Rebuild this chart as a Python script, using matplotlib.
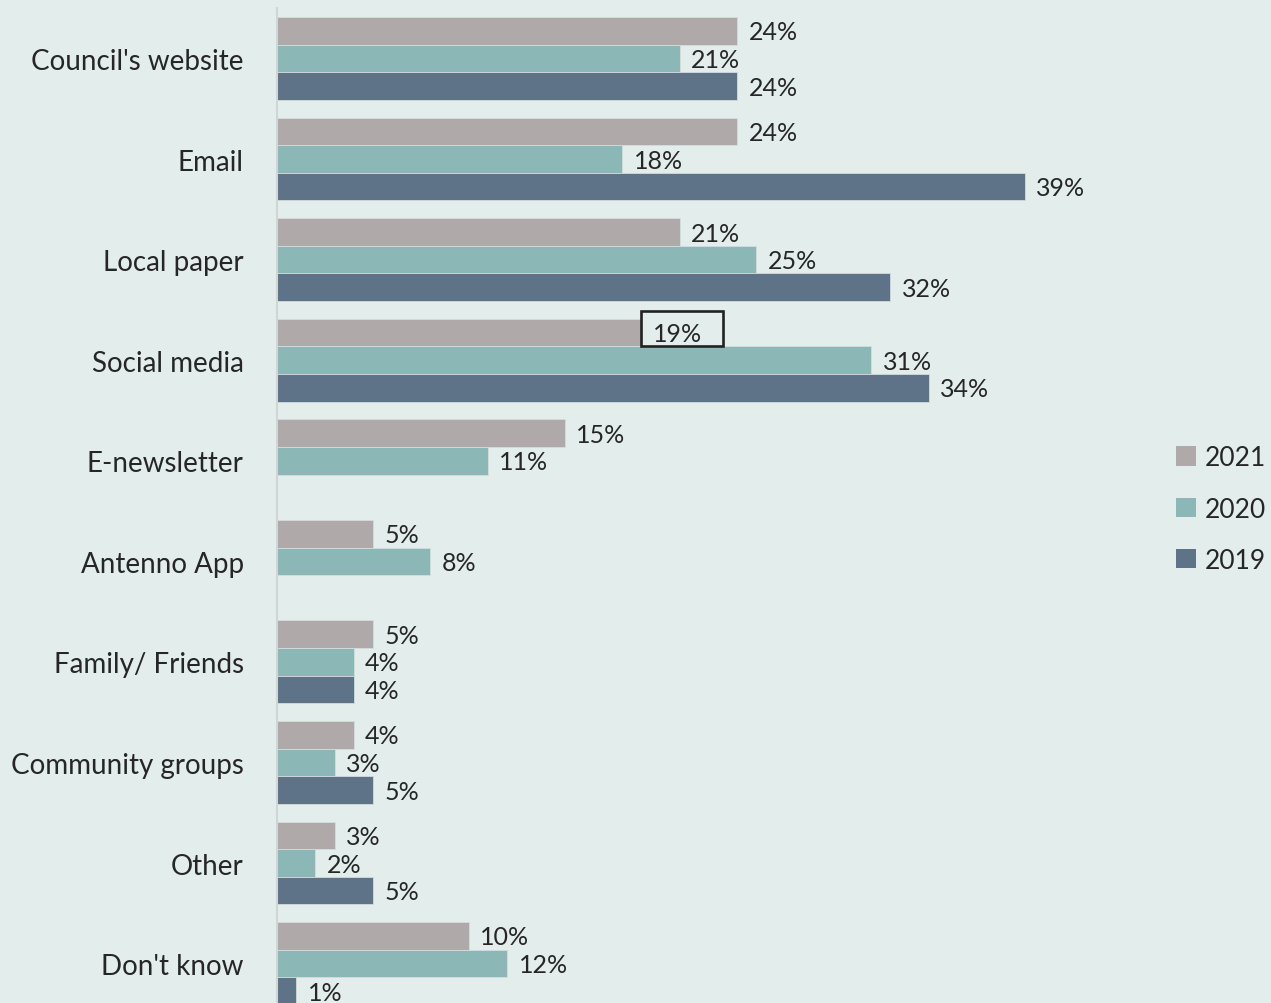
import matplotlib
matplotlib.use("Agg")
import matplotlib.pyplot as plt
from matplotlib.patches import Patch, Rectangle
import numpy as np

plt.rcParams["font.family"] = ["Lato", "DejaVu Sans"]

categories = [
    "Council's website", "Email", "Local paper", "Social media", "E-newsletter",
    "Antenno App", "Family/ Friends", "Community groups", "Other", "Don't know",
]
years = ["2021", "2020", "2019"]
pct_2021 = [24, 24, 21, 19, 15, 5, 5, 4, 3, 10]
pct_2020 = [21, 18, 25, 31, 11, 8, 4, 3, 2, 12]
pct_2019 = [24, 39, 32, 34, None, None, 4, 5, 5, 1]
highlight = ("Social media", "2021")

colors = ["#afaaa9", "#8bb8b7", "#5e7387"]
bg = "#e3eeec"
text_col = "#262626"

fig = plt.figure(figsize=(12.71, 10.04), dpi=100, facecolor=bg)
ax = fig.add_axes([277 / 1271, 0, 862.5 / 1271, 995 / 1004], facecolor=bg)

y = np.arange(len(categories))
h = 0.2745
series = [pct_2021, pct_2020, pct_2019]
for k, (vals, col, yr) in enumerate(zip(series, colors, years)):
    for i, v in enumerate(vals):
        if v is None:
            continue
        yy = y[i] + (k - 1) * h
        ax.barh(yy, v, height=h, color=col, edgecolor="#d4dcdb", linewidth=0.6)
        ax.text(v + 0.6, yy + 0.01, f"{v}%", va="center", ha="left", fontsize=18,
                color=text_col)
        if (categories[i], yr) == highlight:
            # outline box around the highlighted value label
            ax.add_patch(Rectangle((v, yy - 0.212), 4.25, 0.346, fill=False,
                                   ec="#222222", lw=1.9, zorder=5, clip_on=False))

ax.set_xlim(0, 45)
ax.set_ylim(9.392, -0.502)
ax.set_yticks(y)
ax.set_yticklabels(categories, fontsize=20, color=text_col)
ax.tick_params(axis="y", length=0, pad=24)
ax.set_xticks([])
for s in ["top", "right", "bottom"]:
    ax.spines[s].set_visible(False)
ax.spines["left"].set_color("#cfd6d5")
ax.spines["left"].set_linewidth(1.5)

handles = [Patch(facecolor=c, edgecolor="none") for c in colors]
leg = fig.legend(handles, years, loc="center left", bbox_to_anchor=(1152 / 1271, 1 - 510 / 1004),
                 frameon=False, fontsize=19, handlelength=0.75, handleheight=0.75,
                 handletextpad=0.35, labelspacing=1.0)
for t in leg.get_texts():
    t.set_color(text_col)

fig.savefig("out.png", dpi=100, facecolor=bg)
